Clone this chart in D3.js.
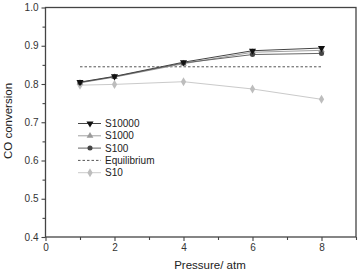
<!DOCTYPE html>
<html>
<head>
<meta charset="utf-8">
<script src="https://cdn.jsdelivr.net/npm/d3@7"></script>
<style>
  body { margin: 0; background: #fff; }
  svg { font-family: Arial, 'Liberation Sans', sans-serif; }
</style>
</head>
<body>
<svg id="chart" width="359" height="270"></svg>
<script>
const pressures = [1, 2, 4, 6, 8];
const s10000 = [0.805, 0.82, 0.857, 0.887, 0.894];
const s1000 = [0.803, 0.818, 0.853, 0.883, 0.888];
const s100 = [0.804, 0.819, 0.855, 0.877, 0.880];
const s10 = [0.797, 0.799, 0.806, 0.787, 0.760];
const equilibrium = 0.845;
const xTicks = [0, 2, 4, 6, 8];
const yTicks = [0.4, 0.5, 0.6, 0.7, 0.8, 0.9, 1.0];

const svg = d3.select('#chart');
const margins = { top: 7.5, right: 3, bottom: 33, left: 45.5 };
const width = 359 - margins.left - margins.right;
const height = 270 - margins.top - margins.bottom;

const g = svg.append('g').attr('transform', 'translate(' + margins.left + ',' + margins.top + ')');

const x = d3.scaleLinear().domain([0, 9]).range([0, width]);
const y = d3.scaleLinear().domain([0.4, 1.0]).range([height, 0]);

const axisColor = '#444';

// frame
g.append('rect').attr('width', width).attr('height', height)
  .attr('fill', 'none').attr('stroke', axisColor).attr('stroke-width', 1.3);

// minor ticks
const xMinor = d3.axisBottom(x).tickValues([1, 3, 5, 7, 9]).tickSize(3).tickFormat('');
const yMinor = d3.axisLeft(y).tickValues([0.45, 0.55, 0.65, 0.75, 0.85, 0.95]).tickSize(3).tickFormat('');

const xAxis = d3.axisBottom(x).tickValues(xTicks).tickSize(4).tickPadding(3).tickFormat(d3.format('d'));
const yAxis = d3.axisLeft(y).tickValues(yTicks).tickSize(4).tickPadding(3).tickFormat(d3.format('.1f'));

function styleAxis(sel) {
  sel.select('.domain').remove();
  sel.selectAll('line').attr('stroke', axisColor).attr('stroke-width', 1.1);
  sel.selectAll('text').attr('fill', '#333').attr('font-size', 10)
    .attr('font-family', 'Arial, Liberation Sans, sans-serif');
}

g.append('g').attr('transform', 'translate(0,' + height + ')').call(xMinor).call(styleAxis);
g.append('g').call(yMinor).call(styleAxis);
g.append('g').attr('transform', 'translate(0,' + height + ')').call(xAxis).call(styleAxis);
g.append('g').call(yAxis).call(styleAxis);

// equilibrium
g.append('line')
  .attr('x1', x(1)).attr('x2', x(8))
  .attr('y1', y(equilibrium)).attr('y2', y(equilibrium))
  .attr('stroke', '#555').attr('stroke-width', 1).attr('stroke-dasharray', '2.5,2');

const series = [
  { name: 'S10', values: s10, line: '#cacaca', fill: '#bdbdbd', symbol: d3.symbolDiamond, size: 24, rot: 0 },
  { name: 'S1000', values: s1000, line: '#a0a0a0', fill: '#9a9a9a', symbol: d3.symbolTriangle, size: 20, rot: 0 },
  { name: 'S100', values: s100, line: '#666', fill: '#444', symbol: d3.symbolCircle, size: 20, rot: 0 },
  { name: 'S10000', values: s10000, line: '#444', fill: '#111', symbol: d3.symbolTriangle, size: 22, rot: 180 }
];

const line = d3.line().x(d => x(d[0])).y(d => y(d[1]));

series.forEach(s => {
  const pts = pressures.map((p, i) => [p, s.values[i]]);
  g.append('path').datum(pts).attr('d', line)
    .attr('fill', 'none').attr('stroke', s.line).attr('stroke-width', 1);
  g.selectAll(null).data(pts).enter().append('path')
    .attr('d', d3.symbol().type(s.symbol).size(s.size))
    .attr('transform', d => 'translate(' + x(d[0]) + ',' + y(d[1]) + ') rotate(' + s.rot + ')')
    .attr('fill', s.fill);
});

// legend
const legendItems = [
  { name: 'S10000', s: series[3] },
  { name: 'S1000', s: series[1] },
  { name: 'S100', s: series[2] },
  { name: 'Equilibrium', s: null },
  { name: 'S10', s: series[0] }
];
const legend = svg.append('g').attr('transform', 'translate(78,123.5)');
legendItems.forEach((it, i) => {
  const row = legend.append('g').attr('transform', 'translate(0,' + (i * 12.3) + ')');
  if (it.s) {
    row.append('line').attr('x1', 0).attr('x2', 23).attr('stroke', it.s.line).attr('stroke-width', 1);
    row.append('path').attr('d', d3.symbol().type(it.s.symbol).size(it.s.size))
      .attr('transform', 'translate(12,0) rotate(' + it.s.rot + ')').attr('fill', it.s.fill);
  } else {
    row.append('line').attr('x1', 0).attr('x2', 23).attr('stroke', '#555')
      .attr('stroke-width', 1).attr('stroke-dasharray', '2.5,2');
  }
  row.append('text').attr('x', 27).attr('y', 3.6).attr('font-size', 10).attr('fill', '#222').text(it.name);
});

// axis titles
svg.append('text').attr('transform', 'translate(12,' + (121) + ') rotate(-90)')
  .attr('text-anchor', 'middle').attr('font-size', 11.5).attr('fill', '#222').text('CO conversion');
svg.append('text').attr('x', 210).attr('y', 268.5)
  .attr('text-anchor', 'middle').attr('font-size', 11.5).attr('fill', '#222').text('Pressure/ atm');
</script>
</body>
</html>
